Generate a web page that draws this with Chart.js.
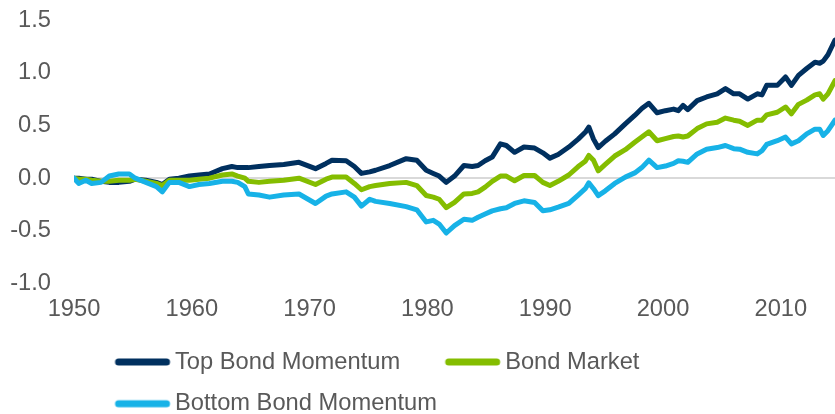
<!DOCTYPE html>
<html>
<head>
<meta charset="utf-8">
<script src="https://cdn.jsdelivr.net/npm/chart.js@4"></script>
<style>
html,body{margin:0;padding:0;background:#fff;}
#wrap{width:835px;height:414px;}
</style>
</head>
<body>
<div id="wrap"><canvas id="c" width="835" height="414"></canvas></div>
<script>
// ---- data ----
const years = [1950.0,1950.4,1951.0,1951.5,1952.3,1953.0,1953.8,1954.7,1955.2,1956.1,1957.0,1957.5,1958.1,1958.9,1959.8,1960.6,1961.5,1962.6,1963.4,1963.9,1964.5,1964.8,1965.7,1966.6,1967.8,1969.1,1970.5,1971.4,1971.9,1973.1,1973.8,1974.4,1975.1,1975.6,1976.8,1978.2,1979.1,1979.9,1980.5,1981.0,1981.6,1982.3,1983.1,1983.8,1984.3,1984.9,1985.5,1986.2,1986.7,1987.4,1988.2,1989.1,1989.8,1990.4,1991.1,1992.0,1992.8,1993.4,1993.7,1994.1,1994.5,1995.1,1995.9,1996.8,1997.6,1998.2,1998.8,1999.5,2000.2,2000.9,2001.3,2001.7,2002.1,2002.9,2003.7,2004.6,2005.3,2006.0,2006.5,2007.2,2008.0,2008.4,2008.8,2009.7,2010.4,2010.9,2011.5,2012.2,2012.9,2013.3,2013.6,2014.0,2014.6];
const topMomentum = [0.00,0.00,-0.01,-0.01,-0.03,-0.04,-0.04,-0.03,-0.01,-0.02,-0.04,-0.06,-0.01,0.00,0.02,0.03,0.04,0.09,0.11,0.10,0.10,0.10,0.11,0.12,0.13,0.15,0.09,0.14,0.17,0.165,0.11,0.045,0.06,0.075,0.12,0.185,0.17,0.075,0.045,0.02,-0.04,0.02,0.12,0.11,0.12,0.165,0.20,0.325,0.31,0.245,0.295,0.285,0.24,0.19,0.225,0.295,0.37,0.435,0.485,0.37,0.29,0.35,0.42,0.515,0.595,0.66,0.71,0.62,0.64,0.655,0.64,0.69,0.65,0.735,0.77,0.80,0.85,0.80,0.80,0.75,0.80,0.79,0.88,0.88,0.96,0.88,0.975,1.04,1.10,1.09,1.11,1.17,1.31];
const bondMarket = [0.00,-0.01,-0.01,-0.02,-0.03,-0.03,-0.02,-0.02,-0.01,-0.03,-0.05,-0.07,-0.02,-0.02,-0.02,-0.01,0.00,0.03,0.04,0.02,0.00,-0.03,-0.04,-0.03,-0.02,0.00,-0.06,-0.01,0.01,0.01,-0.05,-0.11,-0.08,-0.07,-0.05,-0.04,-0.07,-0.165,-0.18,-0.20,-0.28,-0.23,-0.15,-0.145,-0.13,-0.085,-0.03,0.02,0.02,-0.025,0.025,0.025,-0.04,-0.07,-0.03,0.03,0.11,0.16,0.215,0.17,0.07,0.13,0.21,0.27,0.34,0.39,0.44,0.355,0.375,0.395,0.40,0.39,0.40,0.47,0.515,0.53,0.57,0.55,0.54,0.50,0.55,0.55,0.60,0.625,0.675,0.61,0.70,0.74,0.79,0.80,0.75,0.80,0.925];
const bottomMomentum = [0.00,-0.05,-0.02,-0.05,-0.04,0.02,0.04,0.04,0.00,-0.04,-0.08,-0.13,-0.04,-0.04,-0.08,-0.06,-0.05,-0.03,-0.03,-0.04,-0.08,-0.15,-0.16,-0.18,-0.16,-0.15,-0.24,-0.17,-0.15,-0.13,-0.18,-0.265,-0.20,-0.22,-0.24,-0.27,-0.30,-0.415,-0.40,-0.435,-0.52,-0.45,-0.39,-0.40,-0.37,-0.34,-0.31,-0.29,-0.28,-0.24,-0.215,-0.23,-0.31,-0.30,-0.275,-0.24,-0.16,-0.10,-0.045,-0.10,-0.165,-0.12,-0.05,0.01,0.05,0.10,0.17,0.10,0.115,0.14,0.165,0.16,0.15,0.23,0.275,0.29,0.31,0.28,0.275,0.245,0.23,0.26,0.32,0.355,0.39,0.325,0.355,0.42,0.465,0.465,0.405,0.45,0.55];
const seriesNames = ['Top Bond Momentum','Bond Market','Bottom Bond Momentum'];
const seriesColors = ['#00305f','#84bd00','#17b2e7'];
const xTickValues = [1950,1960,1970,1980,1990,2000,2010];
const yTickValues = [-1.0,-0.5,0.0,0.5,1.0,1.5];

// ---- styling ----
const FONT = '"Liberation Sans", Arial, sans-serif';
const FS = 23.7;
const TXT = '#595959';
const LEAD = 27, LINE = 55, GAP = 5, PAD = 18;
const BOXW = LEAD + LINE + GAP - FS / 2;

function makeSwatch(color) {
  const W = 92, H = 12;
  const cv = document.createElement('canvas');
  cv.width = W; cv.height = H;
  const g = cv.getContext('2d');
  const start = LEAD - BOXW / 2 + W / 2;
  g.strokeStyle = color;
  g.lineWidth = 7;
  g.lineCap = 'round';
  g.beginPath();
  g.moveTo(start + 3.5, H / 2);
  g.lineTo(start + LINE - 3.5, H / 2);
  g.stroke();
  return cv;
}

const allSeries = [topMomentum, bondMarket, bottomMomentum];
const datasets = allSeries.map((arr, i) => ({
  label: seriesNames[i],
  data: years.map((x, j) => ({x: x, y: arr[j]})),
  borderColor: seriesColors[i],
  backgroundColor: seriesColors[i],
  borderWidth: 5,
  pointRadius: 0,
  tension: 0,
  borderJoinStyle: 'round',
  borderCapStyle: 'round',
  fill: false,
  order: 2 - i
}));

const legendShift = {
  id: 'legendShift',
  afterLayout(chart) {
    const lg = chart.legend;
    if (!lg) return;
    const dx = (115 - LEAD - PAD) - lg.left;
    const dy = (362 - FS / 2 - PAD) - lg.top;
    lg.left += dx; lg.right += dx;
    lg.top += dy; lg.bottom += dy;
  }
};

new Chart(document.getElementById('c'), {
  type: 'line',
  data: { datasets: datasets },
  plugins: [legendShift],
  options: {
    responsive: false,
    animation: false,
    devicePixelRatio: 1,
    layout: { padding: { left: 10, right: 0, top: 20, bottom: 0 } },
    plugins: {
      tooltip: { enabled: false },
      legend: {
        position: 'bottom',
        align: 'start',
        labels: {
          font: { family: FONT, size: FS },
          color: TXT,
          usePointStyle: true,
          pointStyleWidth: BOXW,
          boxHeight: 12,
          padding: PAD,
          generateLabels(chart) {
            return chart.data.datasets.map((ds, i) => ({
              text: ds.label,
              fillStyle: ds.borderColor,
              strokeStyle: ds.borderColor,
              lineWidth: 0,
              pointStyle: makeSwatch(ds.borderColor),
              hidden: false,
              datasetIndex: i,
              fontColor: TXT
            }));
          }
        }
      }
    },
    scales: {
      x: {
        type: 'linear',
        min: 1950,
        max: 2014.6,
        afterBuildTicks(s) { s.ticks = xTickValues.map(v => ({value: v})); },
        afterFit(s) { s.height = 37; },
        grid: { display: false, drawTicks: false },
        border: { display: false },
        ticks: {
          font: { family: FONT, size: FS },
          color: TXT,
          padding: 12,
          maxRotation: 0,
          callback: v => String(v)
        }
      },
      y: {
        type: 'linear',
        min: -1,
        max: 1.5,
        afterBuildTicks(s) { s.ticks = yTickValues.map(v => ({value: v})); },
        afterFit(s) { s.width = 64; s.paddingTop = 0; s.paddingBottom = 0; },
        grid: {
          drawTicks: false,
          lineWidth: 2,
          color: ctx => (ctx.tick && Math.abs(ctx.tick.value) < 1e-9) ? '#d9d9d9' : 'rgba(0,0,0,0)'
        },
        border: { display: false },
        ticks: {
          font: { family: FONT, size: FS },
          color: TXT,
          padding: 23,
          callback: v => Number(v).toFixed(1)
        }
      }
    }
  }
});
</script>
</body>
</html>
